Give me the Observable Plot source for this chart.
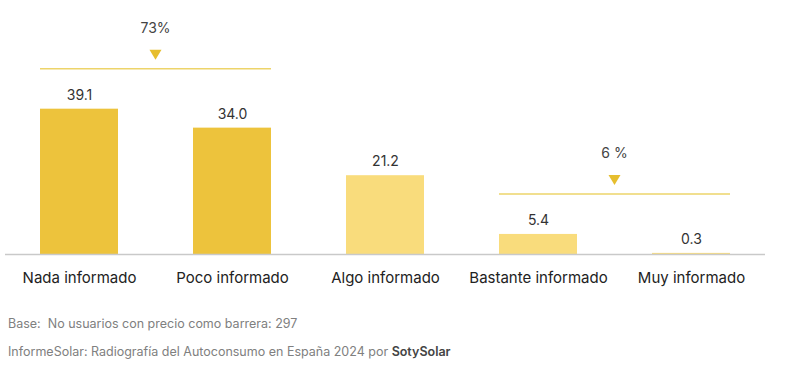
<!DOCTYPE html>
<html><head><meta charset="utf-8">
<script src="https://cdn.jsdelivr.net/npm/d3@7"></script>
<script src="https://cdn.jsdelivr.net/npm/@observablehq/plot@0.6"></script>
<style>
body{margin:0;background:#fff;font-family:Inter,"Noto Sans",sans-serif;}
#cap{margin-left:8px;color:#808080;font-size:12.5px;}
#cap p{margin:0;}
#cap b{color:#444;font-weight:600;}
</style></head><body>
<div id="chart"></div>
<div id="cap">
<p style="margin-top:16px">Base:&nbsp; No usuarios con precio como barrera: 297</p>
<p style="margin-top:13px">InformeSolar: Radiografía del Autoconsumo en España 2024 por <b>SotySolar</b></p>
</div>
<script>
const categories = ["Nada informado","Poco informado","Algo informado","Bastante informado","Muy informado"];
const values = [39.1, 34.0, 21.2, 5.4, 0.3];
const tones = ["dark","dark","light","light","light"];
const valueLabels = ["39.1","34.0","21.2","5.4","0.3"];
const groupLabels = ["73%","6 %"];
const groupFrom = ["Nada informado","Bastante informado"];
const groupTo = ["Poco informado","Muy informado"];

const data = categories.map((c,i)=>({cat:c, v:values[i], tone:tones[i], label:valueLabels[i]}));
const groups = groupLabels.map((g,i)=>{
  const a = categories.indexOf(groupFrom[i]), b = categories.indexOf(groupTo[i]);
  return {label:g, from:groupFrom[i], to:groupTo[i], max:d3.max(values.slice(a,b+1))};
});

const bracketMark = (...args) => {
  const scales = args.find(a => a && typeof a.x === "function" && typeof a.y === "function");
  const x = scales.x, y = scales.y, bw = x.bandwidth ? x.bandwidth() : 0;
  const g = d3.create("svg:g");
  for (const gr of groups) {
    const x1 = x(gr.from), x2 = x(gr.to) + bw, xm = (x1 + x2) / 2;
    const yl = y(gr.max) - 40;
    g.append("line").attr("x1", x1).attr("x2", x2).attr("y1", yl).attr("y2", yl)
      .attr("stroke", "#EDD46A").attr("stroke-width", 1.6);
    g.append("path").attr("d", `M${xm-6},${yl-19}L${xm+6},${yl-19}L${xm},${yl-9}Z`).attr("fill", "#E6BE2E");
    g.append("text").attr("x", xm).attr("y", yl-36).attr("text-anchor","middle")
      .attr("font-size", 14).attr("fill", "#444").attr("font-family","Inter, sans-serif").text(gr.label);
  }
  return g.node();
};

const plot = Plot.plot({
  width: 787, height: 300,
  marginLeft: 5, marginRight: 22, marginTop: 31, marginBottom: 46,
  style: {fontFamily: "Inter, sans-serif", background: "#fff"},
  x: {domain: categories, paddingInner: 0.49, paddingOuter: 0.22, axis: null},
  y: {domain: [0, 60], axis: null},
  color: {domain: ["dark","light"], range: ["#EDC33C","#F9DC7C"]},
  marks: [
    Plot.barY(data, {x: "cat", y: "v", fill: "tone"}),
    Plot.ruleY([0], {stroke: "#c9c9c9", strokeWidth: 1.5}),
    Plot.text(data, {x: "cat", y: "v", text: "label", dy: -14, fontSize: 14, fill: "#333"}),
    Plot.text(data, {x: "cat", y: 0, text: "cat", dy: 24, fontSize: 15, fill: "#222"}),
    bracketMark
  ]
});
document.getElementById("chart").appendChild(plot);
</script>
</body></html>
